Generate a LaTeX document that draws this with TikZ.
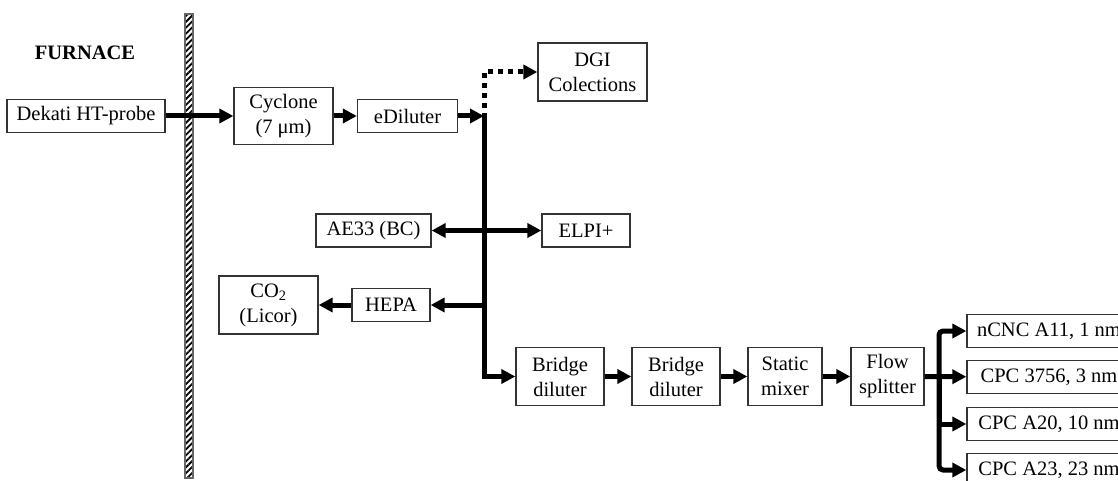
\documentclass[tikz,border=0pt]{standalone}
\usepackage{fontspec}
\setmainfont{Liberation Serif}
\usetikzlibrary{arrows.meta,patterns.meta}
\definecolor{Frame}{HTML}{333333}
\definecolor{WallGray}{HTML}{666666}

\tikzset{
  unit/.style={draw=Frame,line width=1.3pt,align=center,inner sep=0pt,
    font=\fontsize{20.5}{25}\selectfont},
  flow/.style={line width=5pt,-{Triangle[length=14pt,width=14pt]}},
  bothways/.style={line width=5pt,{Triangle[length=14pt,width=14pt]}-{Triangle[length=14pt,width=14pt]}},
  sampling/.style={flow,dash pattern=on 5pt off 5pt}
}

\begin{document}
\begin{tikzpicture}[x=1pt,y=-1pt]
    \clip (0,0) rectangle (1118,481);
    % furnace wall
    \draw[WallGray,line width=1.2pt,pattern color=black,
      pattern={Lines[angle=45,distance=4.2pt,line width=1.8pt]}]
      (185,14) rectangle (193,478);
    \node[font=\fontsize{20.5}{25}\selectfont\bfseries] (furnace) at (85,53) {FURNACE};

    % sampling line
    \node[unit,minimum width=158,minimum height=33] (probe) at (86,116) {Dekati HT-probe};
    \node[unit,minimum width=99,minimum height=57] (cyclone) at (283.5,116) {Cyclone\\(7 μm)};
    \node[unit,minimum width=100,minimum height=33] (ediluter) at (407.5,116) {eDiluter};
    \node[unit,minimum width=109,minimum height=58] (dgi) at (592.5,72) {DGI\\Colections};
    \node[unit,minimum width=115,minimum height=33] (ae33) at (373.5,230.5) {AE33 (BC)};
    \node[unit,minimum width=88,minimum height=33] (elpi) at (586,230.5) {ELPI+};
    \node[unit,minimum width=78,minimum height=33] (hepa) at (391,305) {HEPA};
    \node[unit,minimum width=99,minimum height=58] (co2) at (268.5,305) {CO\textsubscript{2}\\(Licor)};

    % dilution chain
    \node[unit,minimum width=88,minimum height=58] (bridge1) at (560,376.5) {Bridge\\diluter};
    \node[unit,minimum width=88,minimum height=58] (bridge2) at (676,376.5) {Bridge\\diluter};
    \node[unit,minimum width=74,minimum height=58] (mixer) at (785,376.5) {Static\\mixer};
    \node[unit,minimum width=73,minimum height=58] (splitter) at (887.5,376.5) {Flow\\splitter};

    % counters (cut at the right edge)
    \foreach \y/\name/\lab in {331/cnc1/{nCNC A11, 1 nm},377/cnc2/{CPC 3756, 3 nm},
      424/cnc3/{CPC A20, 10 nm},470/cnc4/{CPC A23, 23 nm}}
      \node[unit,minimum width=164,minimum height=33] (\name) at (1049,\y) {\lab};

    \coordinate (top) at (484,116);
    \coordinate (bend) at (484,376.5);
    \coordinate (fork) at (939,376.5);

    \draw[flow] (probe) -- (cyclone);
    \draw[flow] (cyclone) -- (ediluter);
    \draw[flow] (ediluter) -- (top);
    \draw[sampling] (484,108) -- (top |- dgi.west) -- (dgi.west);
    \draw[flow] (484,113) -- (bend) -- (bridge1.west);
    \draw[bothways] (ae33) -- (elpi);
    \draw[flow] (top |- hepa.east) -- (hepa);
    \draw[flow] (hepa) -- (co2);
    \draw[flow] (bridge1) -- (bridge2);
    \draw[flow] (bridge2) -- (mixer);
    \draw[flow] (mixer) -- (splitter);
    \draw[flow] (splitter) -- (cnc2);
    \draw[flow,rounded corners=4pt] (fork) |- (cnc1);
    \draw[flow] (fork) |- (cnc3);
    \draw[flow,rounded corners=4pt] (fork) |- (cnc4);
\end{tikzpicture}
\end{document}
